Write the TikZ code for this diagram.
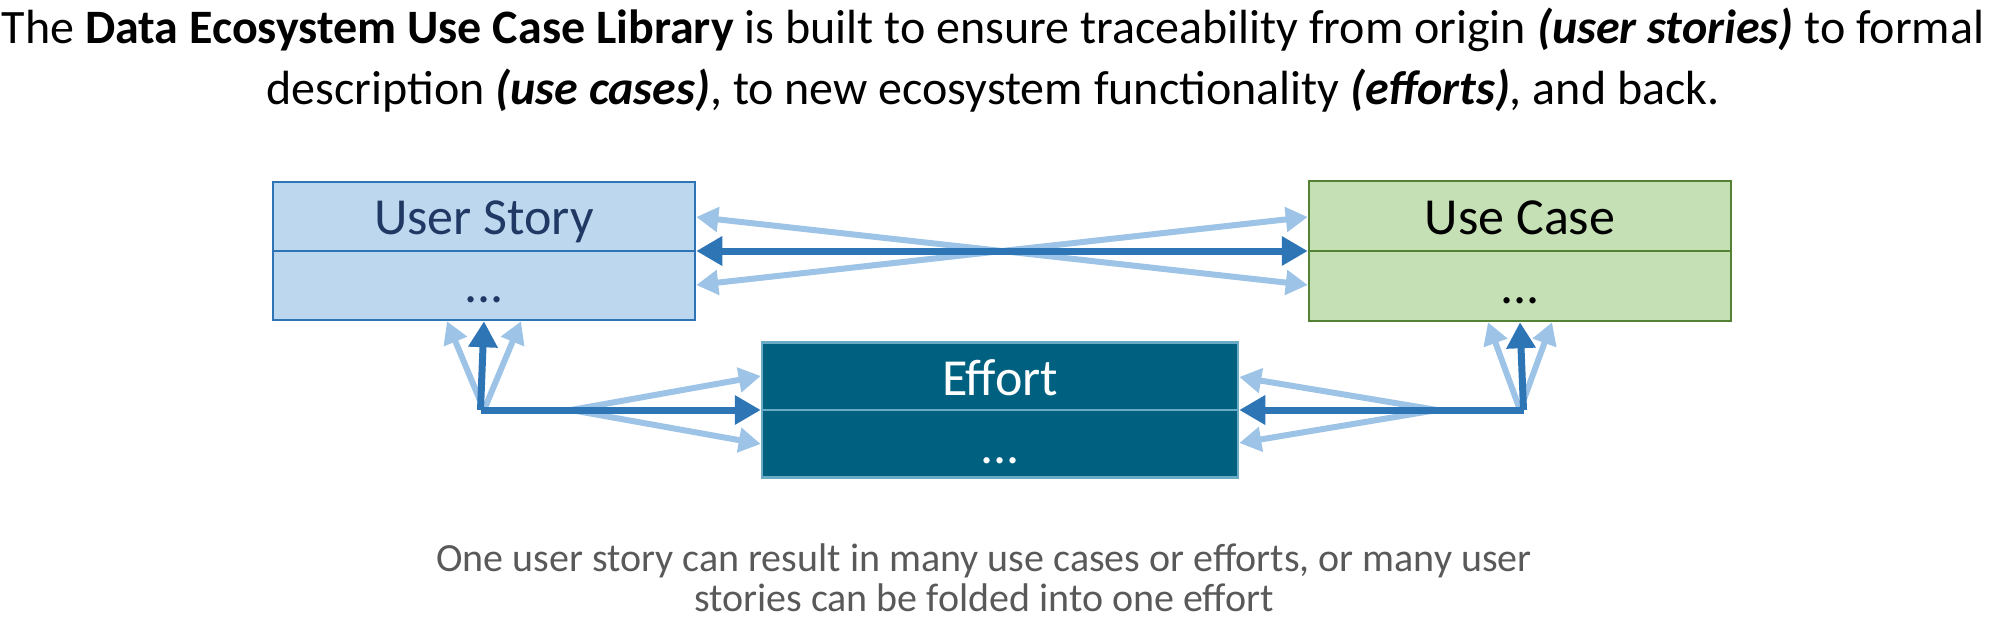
\documentclass[tikz,border=0pt]{standalone}
\usepackage{fontspec}
\setmainfont{Carlito}
\usetikzlibrary{arrows.meta,calc}
\definecolor{usfill}{HTML}{BDD7EE}
\definecolor{usdraw}{HTML}{2E75B6}
\definecolor{ustext}{HTML}{1F3864}
\definecolor{ucfill}{HTML}{C5E0B4}
\definecolor{ucdraw}{HTML}{548235}
\definecolor{effill}{HTML}{00607F}
\definecolor{efdraw}{HTML}{6AABC8}
\definecolor{darkarr}{HTML}{2E75B6}
\definecolor{lightarr}{HTML}{9DC3E6}
\definecolor{notegray}{HTML}{595959}
\tikzset{
  boxnode/.style={rectangle, line width=2.5pt, inner sep=0pt},
  boxlabel/.style={font=\fontsize{52}{62}\selectfont, inner sep=0pt, anchor=base},
  darkline/.style={draw=darkarr, line width=7pt, arrows={-Triangle[length=26pt,width=28pt]}},
  lightline/.style={draw=lightarr, line width=6pt, arrows={-Triangle[length=22pt,width=24pt]}},
  lightboth/.style={draw=lightarr, line width=6pt, arrows={Triangle[length=22pt,width=24pt]-Triangle[length=22pt,width=24pt]}},
  darkboth/.style={draw=darkarr, line width=7pt, arrows={Triangle[length=26pt,width=28pt]-Triangle[length=26pt,width=28pt]}},
  titletext/.style={font=\fontsize{48}{58}\selectfont, inner sep=0pt, anchor=base},
  notetext/.style={font=\fontsize{40}{48}\selectfont, text=notegray, inner sep=0pt, anchor=base}
}
\begin{document}
\begin{tikzpicture}[x=1pt,y=-1pt]
\useasboundingbox (0,0) rectangle (2007,637);
% title
\node[titletext] (t1) at (993,43) {The \textbf{Data Ecosystem Use Case Library} is built to ensure traceability from origin \textbf{\textit{(user stories)}} to formal};
\node[titletext] (t2) at (993,104) {description \textbf{\textit{(use cases)}}, to new ecosystem functionality \textbf{\textit{(efforts)}}, and back.};
% boxes
\node[boxnode, fill=usfill, draw=usdraw, minimum width=422pt, minimum height=138pt] (us) at (484,251) {};
\draw[usdraw, line width=2.5pt] (us.west) -- (us.east);
\node[boxlabel, text=ustext] (ust) at (484,234) {User Story};
\node[boxlabel, text=ustext] (usd) at (484,302) {...};
\node[boxnode, fill=ucfill, draw=ucdraw, minimum width=422pt, minimum height=140pt] (uc) at (1520,251) {};
\draw[ucdraw, line width=2.5pt] (uc.west) -- (uc.east);
\node[boxlabel, text=black] (uct) at (1520,234) {Use Case};
\node[boxlabel, text=black] (ucd) at (1520,303) {...};
\node[boxnode, fill=effill, draw=efdraw, minimum width=476pt, minimum height=135pt] (ef) at (1000,410) {};
\draw[efdraw, line width=2.5pt] (ef.west) -- (ef.east);
\node[boxlabel, text=white] (eft) at (1000,395) {Effort};
\node[boxlabel, text=white] (efd) at (1000,463) {...};
% coordinates
\coordinate (v1) at (484,410);
\coordinate (v2) at (1520,410);
\coordinate (h1) at (571,410);
\coordinate (h2) at (1437,410);
% crossing arrows between user story and use case
\draw[lightboth] ($(us.east)+(0,-34)$) -- ($(uc.west)+(0,34)$);
\draw[lightboth] ($(us.east)+(0,34)$) -- ($(uc.west)+(0,-34)$);
\draw[darkboth] (us.east) -- (uc.west);
% left fan
\draw[lightline] (v1) -- ($(us.south)+(-37,0)$);
\draw[lightline] (v1) -- ($(us.south)+(37,0)$);
\draw[lightline] (h1) -- ($(ef.west)+(0,-34)$);
\draw[lightline] (h1) -- ($(ef.west)+(0,34)$);
\draw[darkline] ($(v1)+(-3.5,0)$) -- (us.south);
\draw[darkline] ($(v1)+(-3.5,0)$) -- (ef.west);
% right fan
\draw[lightline] (v2) -- ($(uc.south)+(-32,0)$);
\draw[lightline] (v2) -- ($(uc.south)+(32,0)$);
\draw[lightline] (h2) -- ($(ef.east)+(0,-33)$);
\draw[lightline] (h2) -- ($(ef.east)+(0,33)$);
\draw[darkline] ($(v2)+(3.5,0)$) -- (uc.south);
\draw[darkline] ($(v2)+(3.5,0)$) -- (ef.east);
% note
\node[notetext] (n1) at (984,571) {One user story can result in many use cases or efforts, or many user};
\node[notetext] (n2) at (984,611) {stories can be folded into one effort};
\end{tikzpicture}
\end{document}
